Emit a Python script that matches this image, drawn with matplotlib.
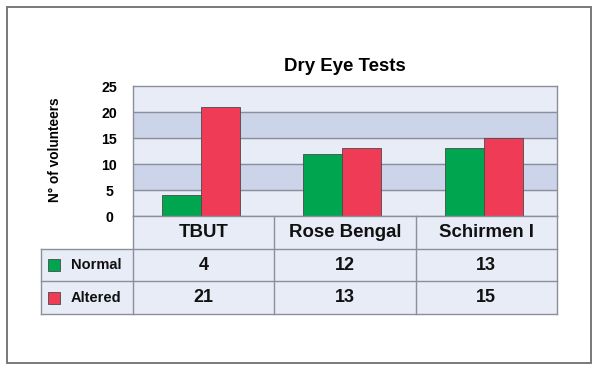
import numpy as np
import matplotlib.pyplot as plt
from matplotlib.patches import Rectangle

plt.rcParams['font.family'] = ['Liberation Sans', 'DejaVu Sans']
plt.rcParams['font.weight'] = 'bold'

# data
categories = ['TBUT', 'Rose Bengal', 'Schirmen I']
series_names = ['Normal', 'Altered']
normal = [4, 12, 13]
altered = [21, 13, 15]
yticks = [0, 5, 10, 15, 20, 25]

green = '#00a550'
red = '#ef3b55'
light = '#e8ecf7'
dark = '#ccd4ea'
line = '#8c8f99'

fig = plt.figure(figsize=(6, 3.7), dpi=100)
W, H = 600, 370

def px_rect(l, t, r, b):
    return [l / W, (H - b) / H, (r - l) / W, (b - t) / H]

# outer frame
fig.patches.append(Rectangle((7 / W, 7 / H), 584 / W, 356 / H, transform=fig.transFigure,
                             fill=False, edgecolor='#6e6e6e', linewidth=1.3))

# chart
ax = fig.add_axes(px_rect(133, 86, 557, 216))
ax.set_facecolor(light)
x = np.arange(len(categories))
ax.set_xlim(-0.5, len(categories) - 0.5)
ax.set_ylim(0, 25)
for lo in (5, 15):
    ax.axhspan(lo, lo + 5, color=dark, zorder=0)
for t in yticks[1:-1]:
    ax.axhline(t, color=line, linewidth=1, zorder=1)

w = 0.276
off = -0.018
ax.bar(x + off - w / 2, normal, w, color=green, edgecolor='#4a4a4a', linewidth=0.6, zorder=3)
ax.bar(x + off + w / 2, altered, w, color=red, edgecolor='#4a4a4a', linewidth=0.6, zorder=3)

ax.set_xticks([])
ax.set_yticks(yticks)
ax.set_yticklabels([str(t) for t in yticks], ha='center', fontsize=10.2, fontweight='bold')
ax.tick_params(axis='y', length=0, pad=17)
for s in ax.spines.values():
    s.set_color(line)
    s.set_linewidth(1)

fig.text(345 / W, (H - 71) / H, 'Dry Eye Tests', ha='center', va='baseline',
         fontsize=13.4, fontweight='bold')
fig.text(55 / W, (H - 150) / H, 'N° of volunteers', ha='center', va='center',
         rotation=90, fontsize=9.8, fontweight='bold')

# data table under the chart
tx = fig.add_axes(px_rect(41, 216, 557, 314))
left = -0.5 - 92 / 141.33
tx.set_xlim(left, len(categories) - 0.5)
tx.set_ylim(3, 0)
tx.axis('off')

tx.add_patch(Rectangle((-0.5, 0), len(categories), 1, facecolor=light, edgecolor='none'))
tx.add_patch(Rectangle((left, 1), len(categories) - 0.5 - left, 2, facecolor=light, edgecolor='none'))
lk = dict(color=line, linewidth=1, clip_on=False)
tx.plot([-0.5, len(categories) - 0.5], [0, 0], **lk)
for yy in (1, 2, 3):
    tx.plot([left, len(categories) - 0.5], [yy, yy], **lk)
tx.plot([left, left], [1, 3], **lk)
for xx in np.arange(len(categories) + 1) - 0.5:
    tx.plot([xx, xx], [0, 3], **lk)

for i, c in enumerate(categories):
    tx.text(i, 0.5, c, ha='center', va='center', fontsize=13.4, fontweight='bold', color='#111111')
for r, (name, vals, col) in enumerate(zip(series_names, [normal, altered], [green, red])):
    yy = r + 1.5
    tx.plot([left + 13 / 141.33], [yy], marker='s', markersize=8.6, color=col,
            markeredgecolor='#4a4a4a', markeredgewidth=0.6, clip_on=False)
    tx.text(left + 30 / 141.33, yy, name, ha='left', va='center', fontsize=10.5,
            fontweight='bold', color='#111111')
    for i, v in enumerate(vals):
        tx.text(i, yy, str(v), ha='center', va='center', fontsize=13, fontweight='bold',
                color='#111111')

fig.savefig('out.png', dpi=100)
